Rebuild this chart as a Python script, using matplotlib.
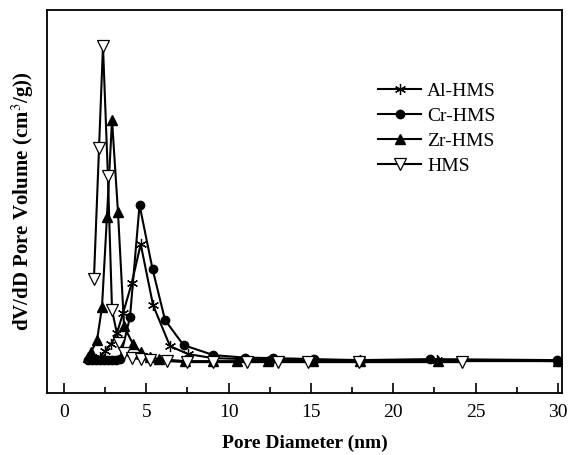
import numpy as np
import matplotlib
matplotlib.use("Agg")
import matplotlib.pyplot as plt
from matplotlib.ticker import MultipleLocator

plt.rcParams['font.family'] = ['Liberation Serif', 'DejaVu Serif']
plt.rcParams['mathtext.fontset'] = 'stix'

# pore size distributions (BJH), arbitrary dV/dD units
al_d = [2.19, 2.49, 2.86, 3.22, 3.59, 4.12, 4.66, 5.41, 6.44, 7.54, 9.06,
        11.0, 12.7, 15.14, 18.0, 22.67, 29.97]
al_v = [0.036, 0.042, 0.049, 0.060, 0.080, 0.110, 0.149, 0.088, 0.047, 0.039,
        0.035, 0.034, 0.033, 0.033, 0.033, 0.033, 0.032]

cr_d = [1.46, 1.70, 1.95, 2.19, 2.43, 2.67, 2.92, 3.16, 3.40, 4.01, 4.59,
        5.38, 6.14, 7.26, 9.08, 10.97, 12.72, 15.17, 17.99, 22.21, 29.95]
cr_v = [0.033, 0.033, 0.033, 0.033, 0.033, 0.033, 0.033, 0.033, 0.034, 0.076,
        0.188, 0.124, 0.073, 0.048, 0.038, 0.0355, 0.035, 0.034, 0.033, 0.034,
        0.033]

zr_d = [1.46, 1.64, 2.01, 2.31, 2.61, 2.92, 3.28, 3.65, 4.19, 4.68, 5.23,
        5.78, 7.36, 9.06, 10.52, 12.40, 15.14, 17.99, 22.74, 29.97]
zr_v = [0.036, 0.041, 0.053, 0.086, 0.176, 0.273, 0.181, 0.067, 0.049, 0.041,
        0.036, 0.034, 0.032, 0.032, 0.032, 0.032, 0.032, 0.032, 0.032, 0.032]

hms_d = [1.82, 2.13, 2.37, 2.67, 2.92, 3.34, 3.65, 4.13, 4.68, 5.23, 6.26,
         7.48, 9.06, 11.12, 13.01, 14.83, 17.93, 24.19]
hms_v = [0.114, 0.245, 0.347, 0.217, 0.083, 0.050, 0.040, 0.035, 0.034, 0.033,
         0.032, 0.031, 0.031, 0.031, 0.031, 0.031, 0.031, 0.031]

fig = plt.figure(figsize=(5.73, 4.55), dpi=100)
ax = fig.add_axes([0.082, 0.136, 0.899, 0.842])

ax.plot(al_d, al_v, color='k', lw=1.5, marker=(6, 2, 0), ms=8, mew=0.9,
        label='Al-HMS')
ax.plot(cr_d, cr_v, color='k', lw=1.5, marker='o', ms=6, label='Cr-HMS')
ax.plot(zr_d, zr_v, color='k', lw=1.5, marker='^', ms=7, label='Zr-HMS')
ax.plot(hms_d, hms_v, color='k', lw=1.5, marker='v', ms=8, mfc='white',
        mew=0.9, label='HMS')

ax.set_xlim(-1.03, 30.25)
ax.set_ylim(0, 0.383)
ax.xaxis.set_major_locator(MultipleLocator(5))
ax.xaxis.set_minor_locator(MultipleLocator(2.5))
ax.set_yticks([])
ax.tick_params(axis='x', which='major', direction='in', length=7, width=1.2,
               labelsize=14, pad=8)
ax.tick_params(axis='x', which='minor', direction='in', length=4, width=1.2)
for s in ax.spines.values():
    s.set_linewidth(1.3)

ax.set_xlabel('Pore Diameter (nm)', fontsize=14, fontweight='bold', labelpad=10)
ax.set_ylabel('dV/dD Pore Volume (cm$^{3}$/g))', fontsize=15,
              fontweight='bold', labelpad=8)

ax.legend(loc='upper left', bbox_to_anchor=(0.63, 0.858),
          bbox_transform=fig.transFigure, frameon=False, fontsize=14,
          handlelength=2.2, handletextpad=0.3, labelspacing=0.38)

fig.savefig('out.png', dpi=100)
